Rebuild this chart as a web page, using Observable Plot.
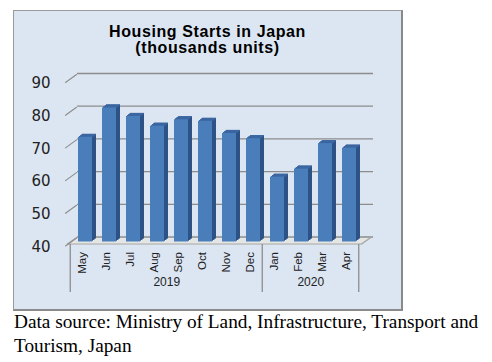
<!DOCTYPE html>
<html><head><meta charset="utf-8">
<script src="https://cdn.jsdelivr.net/npm/d3@7"></script>
<script src="https://cdn.jsdelivr.net/npm/@observablehq/plot@0.6"></script>
<style>
body{margin:0;background:#fff;width:492px;height:362px;position:relative;overflow:hidden}
#box{position:absolute;left:13px;top:10px;width:387px;height:298px;background:#dce6f2;border-left:1px solid #9a9a9a;border-top:1px solid #9a9a9a;border-right:2px solid #8a8a8a;border-bottom:2px solid #8a8a8a}
#chart{position:absolute;left:0;top:0}
#title{position:absolute;left:0;top:13px;width:100%;text-align:center;font:bold 16px "Liberation Sans",Arial,sans-serif;line-height:16px;letter-spacing:0.6px;color:#000}
#caption{position:absolute;left:14px;top:310px;width:480px;font:19.3px "Liberation Serif","Times New Roman",serif;line-height:24.4px;color:#000}
</style></head>
<body>
<div id="box"><div id="chart"></div><div id="title">Housing Starts in Japan<br>(thousands units)</div></div>
<div id="caption">Data source: Ministry of Land, Infrastructure, Transport and<br>Tourism, Japan</div>
<script>
const months = ["May","Jun","Jul","Aug","Sep","Oct","Nov","Dec","Jan","Feb","Mar","Apr"];
const monthYears = ["2019","2019","2019","2019","2019","2019","2019","2019","2020","2020","2020","2020"];
const values = [72.0, 81.0, 78.4, 75.4, 77.4, 76.9, 73.2, 71.6, 59.8, 62.3, 70.1, 68.7];
const yTicks = [40, 50, 60, 70, 80, 90];

const data = months.map((m, i) => ({month: m, year: monthYears[i], value: values[i]}));
const groups = d3.groups(data, d => d.year);
const yearLabels = groups.map(([y]) => y);
const yearMid = groups.map(([, rows]) => rows[rows.length / 2 - 1].month);

const W = 387, H = 298, mL = 53, mR = 40, mT = 69, mB = 65.5;
const step = (W - mL - mR) / months.length;
const base = yTicks[0];
const frontColor = "#4a7ebb", sideColor = "#2d5386", topColor = "#3d69a5", gridColor = "#8c8c8c";
const lineShape = {draw(ctx, l) { ctx.moveTo(0, 0); ctx.lineTo(0, -l); }};

const marks = [];
// floor
for (let k = 0; k <= 7; k++) marks.push(Plot.ruleY([base], {dx: k * 10 / 7, dy: -k, stroke: "#e4e4e4", strokeWidth: 1.6}));
// back wall gridlines
marks.push(Plot.ruleY(yTicks, {dx: 10, dy: -7, insetRight: -2, stroke: gridColor, strokeWidth: 1.3}));
// floor edges
marks.push(Plot.ruleY([base], {stroke: "#a6a6a6", strokeWidth: 1}));
marks.push(Plot.vector([0], {frameAnchor: "bottom-left", length: 12.2, rotate: 55, anchor: "start", shape: lineShape, stroke: "#a6a6a6"}));
marks.push(Plot.vector([0], {frameAnchor: "bottom-right", length: 12.2, rotate: 55, anchor: "start", shape: lineShape, stroke: "#a6a6a6"}));
// leaders from labels to gridlines
marks.push(Plot.vector(yTicks, {y: d => d, frameAnchor: "left", dx: -2, dy: 2, length: 13.6, rotate: 54, anchor: "start", shape: lineShape, stroke: gridColor, strokeWidth: 1.1}));
// 3D bars: side, top, front
for (let k = 1; k <= 4; k++) marks.push(Plot.barY(data, {x: "month", y1: base, y2: "value", dx: 3 + k, dy: -2 - 0.75 * k, fill: sideColor}));
for (let k = 1; k <= 4; k++) marks.push(Plot.tickY(data, {x: "month", y: "value", dx: 3 + k, dy: -2 - 0.75 * k, stroke: topColor, strokeWidth: 1}));
marks.push(Plot.barY(data, {x: "month", y1: base, y2: "value", dx: 3, dy: -2, fill: frontColor}));
// axes
marks.push(Plot.axisY(yTicks, {tickSize: 0, tickPadding: 17, dy: 3, fontSize: 15, fontFamily: "DejaVu Sans", fill: "#222", label: null}));
marks.push(Plot.axisX({tickSize: 0, tickRotate: -90, tickPadding: 8, fontSize: 11.5, fill: "#222", label: null}));
// category separators
const sepLeft = groups.map(([, rows]) => rows[0].month);
const lastMonth = months[months.length - 1];
marks.push(Plot.ruleX(sepLeft, {x: d => d, dx: -step / 2, insetTop: (H - mB - mT) + 0.5, insetBottom: -48.5, stroke: gridColor, strokeWidth: 1.3}));
marks.push(Plot.ruleX([lastMonth], {x: d => d, dx: step / 2, insetTop: (H - mB - mT) + 0.5, insetBottom: -48.5, stroke: gridColor, strokeWidth: 1.3}));
// year labels
marks.push(Plot.text(yearLabels, {x: (d, i) => yearMid[i], text: d => d, dx: step / 2, frameAnchor: "bottom", dy: 42, fontSize: 12, fill: "#222"}));

const chart = Plot.plot({
  width: W, height: H,
  marginLeft: mL, marginRight: mR, marginTop: mT, marginBottom: mB,
  x: {type: "band", domain: months, paddingInner: 0.43, paddingOuter: 0.215},
  y: {domain: [yTicks[0], yTicks[yTicks.length - 1]]},
  style: {fontFamily: '"Liberation Sans", Arial, sans-serif', background: "transparent", overflow: "visible"},
  marks
});
document.getElementById("chart").appendChild(chart);
</script>
</body></html>
